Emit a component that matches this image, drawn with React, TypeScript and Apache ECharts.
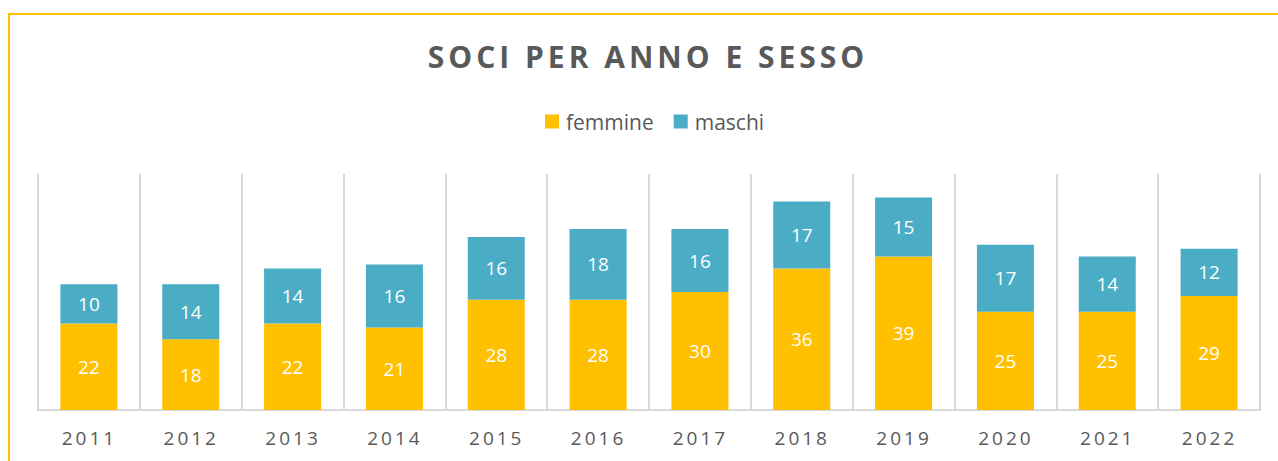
import React, { useEffect, useRef } from "react";
import * as echarts from "echarts";

const years = ["2011", "2012", "2013", "2014", "2015", "2016", "2017", "2018", "2019", "2020", "2021", "2022"];
const femmine = [22, 18, 22, 21, 28, 28, 30, 36, 39, 25, 25, 29];
const maschi = [10, 14, 14, 16, 16, 18, 16, 17, 15, 17, 14, 12];
const titleText = "SOCI PER ANNO E SESSO";

const FONT = "'Open Sans', 'Noto Sans', sans-serif";

export default function App() {
  const ref = useRef<HTMLDivElement>(null);
  useEffect(() => {
    if (!ref.current) return;
    const chart = echarts.init(ref.current, null, { renderer: "svg" });
    chart.setOption({
      animation: false,
      backgroundColor: "#ffffff",
      title: {
        text: titleText,
        left: "center",
        top: 36,
        textStyle: { fontFamily: FONT, fontSize: 30, fontWeight: "bold", color: "#595959" },
      },
      legend: {
        top: 106,
        left: 540,
        itemWidth: 14,
        itemHeight: 14,
        itemGap: 20,
        icon: "rect",
        textStyle: { fontFamily: FONT, fontSize: 21, color: "#595959", padding: [0, 0, 0, 2] },
        data: ["femmine", "maschi"],
      },
      grid: { left: 38, right: 18, top: 174, bottom: 51 },
      xAxis: {
        type: "category",
        data: years,
        axisLine: { lineStyle: { color: "#d9d9d9", width: 2 } },
        axisTick: { show: false },
        splitLine: { show: true, lineStyle: { color: "#d9d9d9", width: 2 } },
        axisLabel: { fontFamily: FONT, fontSize: 19, color: "#595959", margin: 18 },
      },
      yAxis: {
        type: "value",
        min: 0,
        max: 60,
        show: false,
        splitLine: { show: false },
      },
      graphic: [
        {
          type: "rect",
          shape: { x: 9, y: 14, width: 1400, height: 600 },
          style: { fill: "none", stroke: "#FFC000", lineWidth: 2 },
          silent: true,
        },
      ],
      series: [
        {
          name: "femmine",
          type: "bar",
          stack: "tot",
          data: femmine,
          barWidth: "56%",
          itemStyle: { color: "#FFC000" },
          label: { show: true, position: "inside", color: "#ffffff", fontFamily: FONT, fontSize: 19 },
        },
        {
          name: "maschi",
          type: "bar",
          stack: "tot",
          data: maschi,
          barWidth: "56%",
          itemStyle: { color: "#4BACC6" },
          label: { show: true, position: "inside", color: "#ffffff", fontFamily: FONT, fontSize: 19 },
        },
      ],
    });
    const applySpacing = () => {
      if (!ref.current) return;
      ref.current.querySelectorAll("text").forEach((t) => {
        const s = t.textContent || "";
        if (s === titleText) {
          t.setAttribute("letter-spacing", "4");
          t.setAttribute("dx", "9");
        } else if (years.includes(s)) {
          t.setAttribute("letter-spacing", "3");
          t.setAttribute("dx", "0.5");
        }
      });
    };
    applySpacing();
    chart.on("finished", applySpacing);
    return () => chart.dispose();
  }, []);
  return (
    <div
      ref={ref}
      style={{ position: "fixed", left: 0, top: 0, width: 1278, height: 461 }}
    />
  );
}
